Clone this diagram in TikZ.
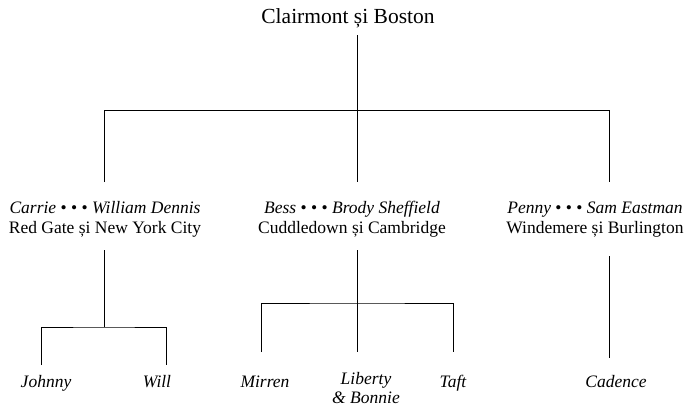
\documentclass[tikz,border=0pt]{standalone}
\usepackage{fontspec}
\setmainfont{Liberation Serif}
\usepackage{tikz}

\tikzset{
  branch/.style={line width=1pt},
  rootname/.style={font=\fontsize{21.5}{24}\selectfont, inner sep=0pt, anchor=base},
  couple/.style={font=\fontsize{17.5}{19.5}\selectfont, align=center, inner sep=0pt, anchor=base},
  kid/.style={font=\fontsize{17.5}{18.5}\selectfont\itshape, align=center, inner sep=0pt, anchor=base}
}

\begin{document}
\begin{tikzpicture}[x=1pt,y=-1pt]
	\useasboundingbox (0,0) rectangle (691,408);

	% the names (base = last line)
	\node[rootname] (boston) at (348,23.5) {Clairmont și Boston};

	\node[couple] (dennis) at (105,233)
	  {\textit{Carrie} • • • \textit{William Dennis}\\Red Gate și New York City};
	\node[couple] (sheffield) at (352,233)
	  {\textit{Bess} • • • \textit{Brody Sheffield}\\Cuddledown și Cambridge};
	\node[couple] (eastman) at (595,233)
	  {\textit{Penny} • • • \textit{Sam Eastman}\\Windemere și Burlington};

	\node[kid] (johnny) at (46,387) {Johnny};
	\node[kid] (will) at (157,387) {Will};
	\node[kid] (mirren) at (265,387) {Mirren};
	\node[kid] (liberty) at (366,403) {Liberty\\\& Bonnie};
	\node[kid] (taft) at (453,387) {Taft};
	\node[kid] (cadence) at (616,387) {Cadence};

	% where the lines start and end
	\coordinate (boston-out) at (357,35);
	\coordinate (dennis-in) at (104,182);
	\coordinate (sheffield-in) at (357,182);
	\coordinate (eastman-in) at (609,182);
	\coordinate (dennis-out) at (104,250);
	\coordinate (sheffield-out) at (357,250);
	\coordinate (eastman-out) at (609,256);
	\coordinate (johnny-in) at (41,365);
	\coordinate (will-in) at (166,365);
	\coordinate (mirren-in) at (261,352);
	\coordinate (liberty-in) at (357,352);
	\coordinate (taft-in) at (453,352);
	\coordinate (cadence-in) at (609,358);

	% first generation
	\draw[branch] (boston-out) -- (sheffield-in);
	\draw[branch] (dennis-in) |- ([yshift=72pt]eastman-in) -- (eastman-in);

	% second generation
	\draw[branch] (dennis-out) -- ++(0,77) coordinate (dennis-hub);
	\draw[branch] (johnny-in) |- (dennis-hub) -| (will-in);
	\draw[branch] (sheffield-out) -- (liberty-in);
	\draw[branch] (mirren-in) |- ([yshift=49pt]liberty-in) -| (taft-in);
	\draw[branch] (eastman-out) -- (cadence-in);
\end{tikzpicture}
\end{document}
